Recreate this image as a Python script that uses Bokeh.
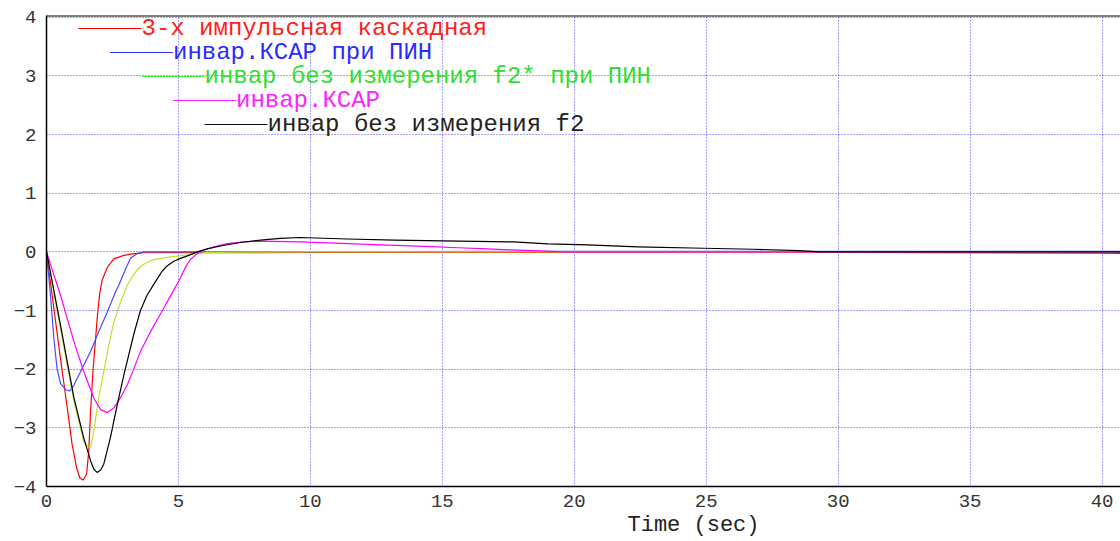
from bokeh.plotting import figure
from bokeh.models import Range1d, Span, Label, FixedTicker, Title
from bokeh.embed import file_html
from bokeh.resources import INLINE

# ---- data ----
red_x = [0, 0.29, 0.53, 0.72, 0.97, 1.14, 1.26, 1.39, 1.52, 1.60, 1.67, 1.76, 1.86, 1.94, 2.02, 2.11, 2.30, 2.55, 2.93, 3.31, 3.69, 10, 20, 30, 40, 41]
red_y = [0, -1.0, -1.82, -2.44, -3.28, -3.68, -3.85, -3.89, -3.79, -3.40, -2.72, -2.04, -1.48, -1.03, -0.70, -0.48, -0.27, -0.12, -0.06, -0.03, -0.015, -0.01, -0.01, -0.01, -0.02, -0.03]

blue_x = [0, 0.15, 0.28, 0.40, 0.53, 0.72, 0.88, 1.04, 1.35, 1.67, 1.98, 2.30, 2.61, 2.74, 2.99, 3.18, 3.43, 3.69, 20, 41]
blue_y = [0, -0.74, -1.48, -1.99, -2.24, -2.35, -2.37, -2.27, -1.99, -1.70, -1.36, -1.03, -0.69, -0.57, -0.30, -0.11, -0.03, 0, 0.01, 0.01]

green_x = [0, 0.53, 1.04, 1.41, 1.54, 1.67, 1.79, 1.98, 2.17, 2.36, 2.55, 2.80, 3.06, 3.24, 3.43, 3.65, 3.94, 4.19, 4.70, 5.20, 5.71, 6.09, 10, 20, 30, 41]
green_y = [0, -1.31, -2.55, -3.23, -3.31, -3.33, -3.06, -2.49, -2.04, -1.59, -1.20, -0.86, -0.57, -0.43, -0.31, -0.22, -0.15, -0.12, -0.085, -0.06, -0.03, -0.01, 0, 0, 0, 0]

magenta_x = [0, 0.53, 1.04, 1.41, 1.79, 2.05, 2.30, 2.55, 2.80, 3.06, 3.31, 3.56, 3.94, 4.32, 4.70, 5.01, 5.14, 5.27, 5.45, 5.71, 5.96, 6.34, 6.84, 7.47, 8.1, 9.62, 11.2, 12.4, 13.5, 14.6, 15.6, 16.7, 17.6, 18.7, 19.6, 41]
magenta_y = [0, -0.74, -1.53, -2.04, -2.49, -2.69, -2.74, -2.66, -2.49, -2.27, -1.99, -1.70, -1.36, -1.06, -0.75, -0.50, -0.38, -0.26, -0.13, -0.03, 0.03, 0.085, 0.14, 0.17, 0.185, 0.17, 0.145, 0.125, 0.105, 0.088, 0.07, 0.052, 0.035, 0.018, 0, 0]

black_x = [0, 0.53, 1.04, 1.41, 1.67, 1.80, 1.92, 2.05, 2.17, 2.42, 2.68, 2.93, 3.31, 3.56, 3.81, 4.07, 4.38, 4.57, 4.82, 5.08, 5.39, 5.71, 6.09, 6.59, 7.35, 8.11, 8.86, 9.62, 11.4, 13.2, 15, 17.7, 19, 20.5, 22.4, 24.9, 26.8, 28.5, 29.3, 41]
black_y = [0, -1.25, -2.49, -3.17, -3.56, -3.71, -3.76, -3.72, -3.62, -3.17, -2.61, -2.10, -1.40, -1.0, -0.74, -0.55, -0.33, -0.24, -0.16, -0.11, -0.06, 0, 0.05, 0.10, 0.16, 0.20, 0.23, 0.245, 0.22, 0.2, 0.188, 0.17, 0.135, 0.12, 0.085, 0.062, 0.045, 0.02, 0, 0]

series_names = [
    "3-х импульсная каскадная",
    "инвар.КСАР при ПИН",
    "инвар без измерения f2* при ПИН",
    "инвар.КСАР",
    "инвар без измерения f2",
]
x_ticks = [0, 5, 10, 15, 20, 25, 30, 35, 40]
y_ticks = [-4, -3, -2, -1, 0, 1, 2, 3, 4]
x_label = "Time (sec)"

# ---- styles ----
curve_colors = ["#ff0000", "#4a4aff", "#c0e030", "#ff00ff", "#000000"]
key_colors = ["#ff0000", "#3030ff", "#44ee44", "#ff22ff", "#111111"]
text_colors = ["#ff2020", "#2a2aff", "#33dd33", "#ff22ff", "#222222"]

X0, X1 = 0, 40.7
Y0, Y1 = -4.0, 4.03

p = figure(width=1120, height=541, output_backend="svg", toolbar_location=None,
           x_range=Range1d(X0, X1), y_range=Range1d(Y0, Y1),
           min_border_left=46, min_border_right=0, min_border_top=15, min_border_bottom=55)
p.outline_line_color = None
p.background_fill_color = "white"
p.border_fill_color = "white"

for ax in (p.xaxis[0], p.yaxis[0]):
    ax.axis_line_color = "black"
    ax.axis_line_width = 1.5
    ax.major_tick_line_color = None
    ax.minor_tick_line_color = None
    ax.major_tick_out = 0
    ax.major_tick_in = 0
    ax.minor_tick_out = 0
    ax.major_label_text_font = "Liberation Mono"
    ax.major_label_text_font_size = "19px"
    ax.major_label_text_color = "#333333"
p.xaxis[0].ticker = FixedTicker(ticks=x_ticks)
p.yaxis[0].ticker = FixedTicker(ticks=y_ticks)
p.xaxis[0].major_label_standoff = 8
p.yaxis[0].major_label_standoff = 10

for g in (p.xgrid[0], p.ygrid[0]):
    g.grid_line_color = "#1a1aff"
    g.grid_line_alpha = 0.8
    g.grid_line_dash = "1 2"
    g.grid_line_width = 1
p.xgrid[0].ticker = FixedTicker(ticks=x_ticks)
p.ygrid[0].ticker = FixedTicker(ticks=y_ticks)

p.add_layout(Span(location=Y1, dimension="width", line_color="black", line_width=2))

series = [(red_x, red_y), (blue_x, blue_y), (green_x, green_y), (magenta_x, magenta_y), (black_x, black_y)]
for (xs, ys), c in zip(series, curve_colors):
    p.line(xs, ys, line_color=c, line_width=1.2, line_join="round")

# ---- staggered legend (pixel layout converted to data units) ----
frame_left, frame_right, frame_top, frame_bottom = 46, 1120, 15, 486
def px2x(px):
    return X0 + (px - frame_left) * (X1 - X0) / (frame_right - frame_left)
def py2y(py):
    return Y1 - (py - frame_top) * (Y1 - Y0) / (frame_bottom - frame_top)

key_start, key_len, key_step_x = 78, 63, 31.5
key_top, key_step_y = 28, 24
for i, name in enumerate(series_names):
    lx0 = key_start + i * key_step_x
    lx1 = lx0 + key_len
    ly = key_top + i * key_step_y
    p.line([px2x(lx0), px2x(lx1)], [py2y(ly), py2y(ly)], line_color=key_colors[i], line_width=1.2)
    p.add_layout(Label(x=px2x(lx1), y=py2y(ly), text=name, text_font="Liberation Mono",
                       text_font_size="24px", text_color=text_colors[i],
                       text_baseline="middle", text_align="left"))

t = Title(text=x_label, align="left", offset=627 - frame_left, standoff=3,
          text_font="Liberation Mono", text_font_size="22px", text_font_style="normal",
          text_color="#222222")
p.add_layout(t, "below")

open("out.html", "w").write(file_html(p, INLINE))
